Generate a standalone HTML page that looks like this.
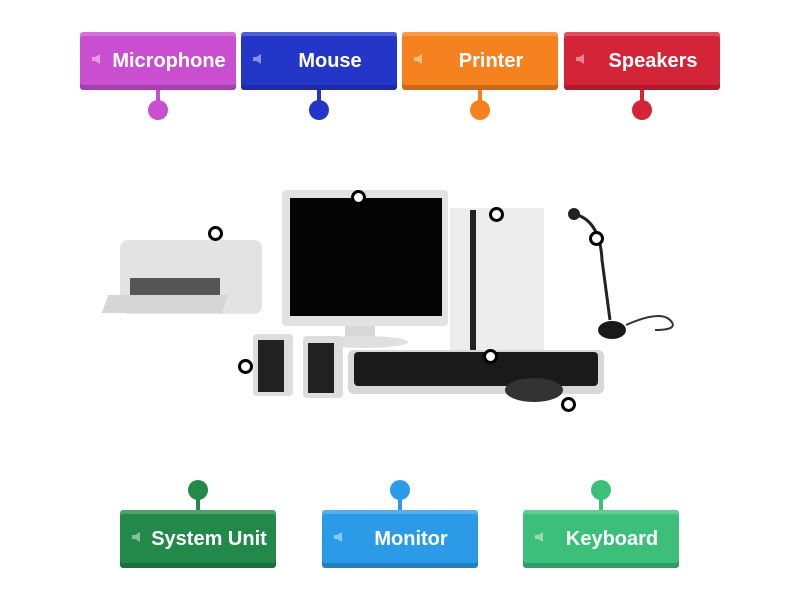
<!DOCTYPE html>
<html><head><meta charset="utf-8"><style>
body{margin:0;width:800px;height:600px;background:#fff;position:relative;overflow:hidden;font-family:"Liberation Sans",sans-serif}
.l{position:absolute;width:156px;height:58px;border-radius:3px;color:#fff;font-weight:bold;font-size:20px;box-sizing:border-box;display:flex;align-items:center;justify-content:center;padding-left:22px;box-shadow:inset 0 -5px 0 rgba(0,0,0,.18),inset 0 4px 0 rgba(255,255,255,.2)}
.l i{position:absolute;left:12px;top:22px;width:8px;height:10px;background:rgba(255,255,255,.45);clip-path:polygon(0 30%,40% 30%,100% 0,100% 100%,40% 70%,0 70%)}
.p{position:absolute;width:4px;height:14px}
.d{position:absolute;width:20px;height:20px;border-radius:50%}
.h{position:absolute;width:9px;height:9px;border:3px solid #000;border-radius:50%;background:#fff}
.s{position:absolute}
</style></head><body>
<div class="l" style="left:80px;top:32px;background:#c94fd0"><i></i>Microphone</div>
<div class="p" style="left:156px;top:90px;background:#c94fd0"></div><div class="d" style="left:148px;top:100px;background:#c94fd0"></div>
<div class="l" style="left:241px;top:32px;background:#2436c8"><i></i>Mouse</div>
<div class="p" style="left:317px;top:90px;background:#2436c8"></div><div class="d" style="left:309px;top:100px;background:#2436c8"></div>
<div class="l" style="left:402px;top:32px;background:#f5821f"><i></i>Printer</div>
<div class="p" style="left:478px;top:90px;background:#f5821f"></div><div class="d" style="left:470px;top:100px;background:#f5821f"></div>
<div class="l" style="left:564px;top:32px;background:#d32438"><i></i>Speakers</div>
<div class="p" style="left:640px;top:90px;background:#d32438"></div><div class="d" style="left:632px;top:100px;background:#d32438"></div>

<div class="l" style="left:120px;top:510px;background:#23894a"><i></i>System Unit</div>
<div class="p" style="left:196px;top:496px;background:#23894a"></div><div class="d" style="left:188px;top:480px;background:#23894a"></div>
<div class="l" style="left:322px;top:510px;background:#2b9be8"><i></i>Monitor</div>
<div class="p" style="left:398px;top:496px;background:#2b9be8"></div><div class="d" style="left:390px;top:480px;background:#2b9be8"></div>
<div class="l" style="left:523px;top:510px;background:#3cbf7b"><i></i>Keyboard</div>
<div class="p" style="left:599px;top:496px;background:#3cbf7b"></div><div class="d" style="left:591px;top:480px;background:#3cbf7b"></div>

<!-- picture -->
<div class="s" style="left:120px;top:240px;width:142px;height:74px;background:#e3e3e3;border-radius:8px"></div>
<div class="s" style="left:130px;top:278px;width:90px;height:18px;background:#555"></div>
<div class="s" style="left:105px;top:295px;width:120px;height:18px;background:#d6d6d6;transform:skewX(-20deg)"></div>
<div class="s" style="left:282px;top:190px;width:166px;height:136px;background:#e2e2e2;border-radius:4px"></div>
<div class="s" style="left:290px;top:198px;width:152px;height:118px;background:#050505"></div>
<div class="s" style="left:345px;top:326px;width:30px;height:14px;background:#d8d8d8"></div>
<div class="s" style="left:318px;top:336px;width:90px;height:12px;background:#e0e0e0;border-radius:50%"></div>
<div class="s" style="left:450px;top:208px;width:94px;height:142px;background:#ececec"></div>
<div class="s" style="left:470px;top:210px;width:6px;height:140px;background:#222"></div>
<div class="s" style="left:253px;top:334px;width:40px;height:62px;background:#ddd;border-radius:4px"></div>
<div class="s" style="left:258px;top:340px;width:26px;height:52px;background:#222"></div>
<div class="s" style="left:303px;top:336px;width:40px;height:62px;background:#ddd;border-radius:4px"></div>
<div class="s" style="left:308px;top:343px;width:26px;height:50px;background:#222"></div>
<div class="s" style="left:348px;top:350px;width:256px;height:44px;background:#d8d8d8;border-radius:6px"></div>
<div class="s" style="left:354px;top:352px;width:244px;height:34px;background:#1a1a1a;border-radius:4px"></div>
<div class="s" style="left:505px;top:378px;width:58px;height:24px;background:#333;border-radius:50%"></div>
<div class="s" style="left:568px;top:208px;width:12px;height:12px;background:#222;border-radius:50%"></div>
<svg class="s" style="left:560px;top:200px" width="130" height="150"><path d="M14 14 Q40 20 42 60 L50 120" stroke="#222" stroke-width="3" fill="none"/><ellipse cx="52" cy="130" rx="14" ry="9" fill="#1a1a1a"/><path d="M66 125 Q100 110 110 120 T95 130" stroke="#333" stroke-width="2" fill="none"/></svg>

<div class="h" style="left:208px;top:226px"></div>
<div class="h" style="left:351px;top:190px"></div>
<div class="h" style="left:489px;top:207px"></div>
<div class="h" style="left:589px;top:231px"></div>
<div class="h" style="left:238px;top:359px"></div>
<div class="h" style="left:483px;top:349px"></div>
<div class="h" style="left:561px;top:397px"></div>
</body></html>
